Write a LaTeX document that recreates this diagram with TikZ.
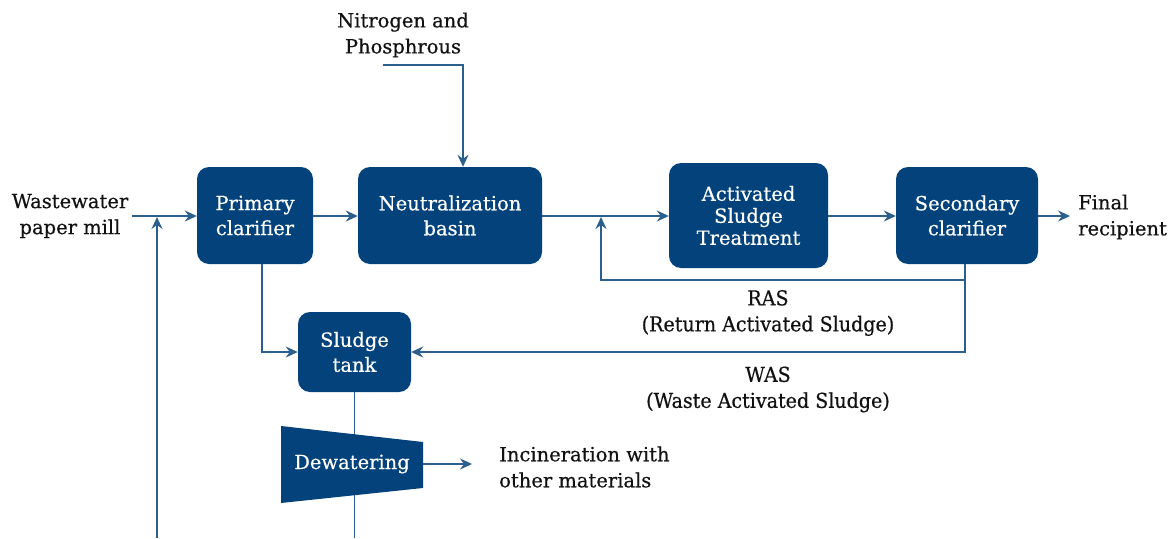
\documentclass[tikz,border=0pt]{standalone}
\usepackage{fontspec}
\setmainfont[FakeBold=0.5]{DejaVu Serif}
\newfontfamily\condfont[FakeStretch=0.93,FakeBold=0.5]{DejaVu Serif}
\usetikzlibrary{arrows.meta}
\definecolor{boxblue}{HTML}{03427A}
\definecolor{lineblue}{HTML}{2B5F8E}
\definecolor{txt}{HTML}{111111}
\begin{document}
\begin{tikzpicture}[x=1pt,y=-1pt,
  box/.style={fill=boxblue, rounded corners=12pt, text=white, align=center,
    font=\fontsize{19.5}{25}\selectfont, inner sep=0pt},
  lbl/.style={align=center, text=txt, font=\fontsize{19.5}{26}\selectfont, inner sep=0pt},
  cond/.style={align=center, text=txt, font=\condfont\fontsize{20.5}{26}\selectfont, inner sep=0pt},
  conn/.style={draw=lineblue, line width=1.4pt, -{Stealth[length=12pt,width=11pt,inset=4pt]}},
  ln/.style={draw=lineblue, line width=1.4pt}]
\useasboundingbox (0,0) rectangle (1175,538);
% boxes
\node[box, minimum width=116pt, minimum height=97pt] (pc) at (255,215.5) {Primary\\clarifier};
\node[box, minimum width=184pt, minimum height=97pt] (nb) at (450,215.5) {Neutralization\\basin};
\node[box, minimum width=159pt, minimum height=105pt, font=\fontsize{19.5}{22}\selectfont] (ast) at (748.5,215.5) {Activated\\Sludge\\Treatment};
\node[box, minimum width=142pt, minimum height=97pt] (sc) at (967,215.5) {Secondary\\clarifier};
\node[box, minimum width=113pt, minimum height=80pt] (st) at (354.5,352) {Sludge\\tank};
% labels
\node[lbl] (ww) at (70,216) {Wastewater\\paper mill};
\node[lbl] (np) at (403,35) {Nitrogen and\\Phosphrous};
\node[lbl, anchor=west, align=left] (fr) at (1078,217) {Final\\recipient};
\node[lbl, anchor=west, align=left] (inc) at (499,467) {Incineration with\\other materials};
\node[cond] (ras) at (768,313) {RAS\\(Return Activated Sludge)};
\node[cond] (was) at (768,389.5) {WAS\\(Waste Activated Sludge)};
% coordinates
\coordinate (wwend) at (132,216);
\coordinate (frin) at (1070,216);
\coordinate (np0) at (383,65);
\coordinate (bot1) at (157,538);
\coordinate (j1) at (157,217);
\coordinate (j2) at (601,217);
\coordinate (rasy) at (601,280);
\coordinate (stbot) at (354.5,538);
\coordinate (incin) at (472,464);
% sludge line behind dewatering
\draw[ln] (st.south) -- (stbot);
% dewatering trapezoid
\fill[boxblue] (281,426) -- (423,442) -- (423,488) -- (281,503) -- cycle;
\node[text=white, font=\fontsize{19.5}{25}\selectfont, minimum width=142pt, minimum height=46pt, inner sep=0pt] (dew) at (352,464) {Dewatering};
% connectors
\draw[conn] (wwend) -- (pc.west |- wwend);
\draw[conn] (pc.east |- wwend) -- (nb.west |- wwend);
\draw[conn] (nb.east |- wwend) -- (ast.west |- wwend);
\draw[conn] (ast.east |- wwend) -- (sc.west |- wwend);
\draw[conn] (sc.east |- wwend) -- (frin);
\draw[conn] (np0) -| ([xshift=13pt]nb.north);
\draw[conn] (bot1) -- (j1);
\draw[conn] ([xshift=-2pt]sc.south) |- (rasy) -- (j2);
\draw[conn] ([xshift=-2pt]sc.south) |- (st.east);
\draw[conn] ([xshift=7pt]pc.south) |- (st.west);
\draw[conn] (dew.east) -- (incin);
\end{tikzpicture}
\end{document}
